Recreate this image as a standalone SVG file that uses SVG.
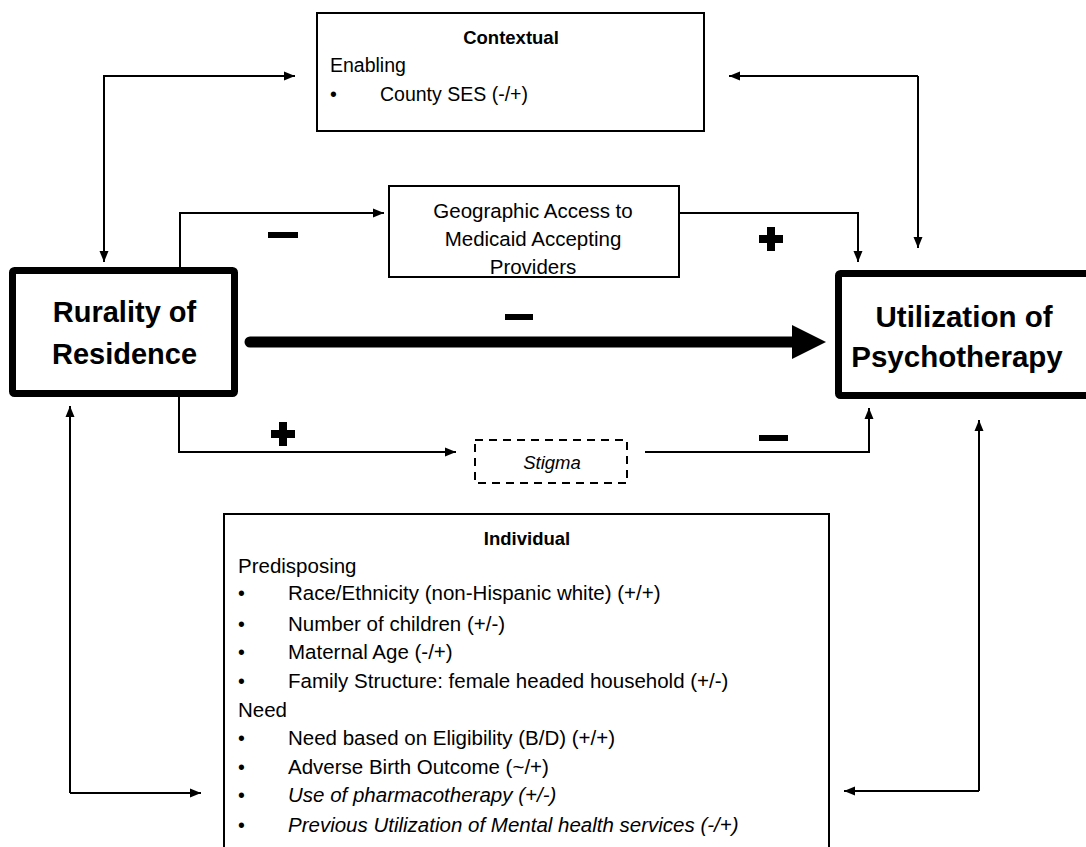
<svg xmlns="http://www.w3.org/2000/svg" width="1086" height="847" viewBox="0 0 1086 847">
<defs>
<marker id="ah" markerUnits="userSpaceOnUse" markerWidth="12" markerHeight="12" viewBox="0 0 12 12" refX="11" refY="6" orient="auto">
<path d="M0,1.5 L11,6 L0,10.5 Z" fill="#000"/>
</marker>
<style>
.t{font-family:"Liberation Sans",Arial,sans-serif;font-size:19.5px;fill:#000}
.m{font-size:20.5px}
.b{font-weight:bold}
.i{font-style:italic}
.box{fill:#fff;stroke:#000;stroke-width:2}
.big{fill:#fff;stroke:#000;stroke-width:7}
.ln{fill:none;stroke:#000;stroke-width:2}
.sign{fill:#000}
</style>
</defs>
<rect width="1086" height="847" fill="#fff"/>

<g id="connectors">
<path class="ln" d="M104,262 V76 H295" marker-end="url(#ah)"/>
<path class="ln" d="M104,96 V262" marker-end="url(#ah)"/>
<path class="ln" d="M918,76 V248" marker-end="url(#ah)"/>
<path class="ln" d="M918,76 H729" marker-end="url(#ah)"/>
<path class="ln" d="M180,267 V213 H384" marker-end="url(#ah)"/>
<path class="ln" d="M680,213 H858 V262" marker-end="url(#ah)"/>
<path class="ln" d="M179,397 V452 H456" marker-end="url(#ah)"/>
<path class="ln" d="M645,452 H869 V408" marker-end="url(#ah)"/>
<path class="ln" d="M70,793 V406" marker-end="url(#ah)"/>
<path class="ln" d="M70,793 H201" marker-end="url(#ah)"/>
<path class="ln" d="M979,791 V420" marker-end="url(#ah)"/>
<path class="ln" d="M979,791 H844" marker-end="url(#ah)"/>
<line x1="250" y1="342" x2="796" y2="342" stroke="#000" stroke-width="11" stroke-linecap="round"/>
<polygon points="792,325 826,342 792,359" fill="#000"/>
<rect class="sign" x="268" y="232" width="30" height="6"/>
<rect class="sign" x="505" y="314" width="28" height="6"/>
<rect class="sign" x="759" y="435" width="29" height="6"/>
<path class="sign" d="M767,227 h8 v8 h8 v8 h-8 v8 h-8 v-8 h-8 v-8 h8 Z"/>
<path class="sign" d="M279,422 h8 v8 h8 v8 h-8 v8 h-8 v-8 h-8 v-8 h8 Z"/>
</g>

<g id="contextual">
<rect class="box" x="317" y="13" width="387" height="118"/>
<text class="t b" x="511" y="44" text-anchor="middle" style="font-size:18.5px">Contextual</text>
<text class="t" x="330" y="72">Enabling</text>
<text class="t" x="330" y="101">•</text>
<text class="t" x="380" y="101">County SES (-/+)</text>
</g>

<g id="geographic">
<rect class="box" x="389" y="186" width="290" height="91"/>
<text class="t m" x="533" y="218" text-anchor="middle">Geographic Access to</text>
<text class="t m" x="533" y="246" text-anchor="middle">Medicaid Accepting</text>
<text class="t m" x="533" y="274" text-anchor="middle">Providers</text>
</g>

<g id="rurality">
<rect class="big" x="12.5" y="270.5" width="222" height="123" rx="2"/>
<text class="t b" x="124.5" y="322" text-anchor="middle" style="font-size:29px">Rurality of</text>
<text class="t b" x="124.5" y="364" text-anchor="middle" style="font-size:29px">Residence</text>
</g>

<g id="utilization">
<rect class="big" x="838.5" y="273.5" width="260" height="122" rx="2"/>
<text class="t b" x="964" y="327" text-anchor="middle" style="font-size:29.5px">Utilization of</text>
<text class="t b" x="957" y="367" text-anchor="middle" style="font-size:29.5px">Psychotherapy</text>
</g>

<g id="stigma">
<rect x="475" y="440" width="152" height="43" fill="#fff" stroke="#000" stroke-width="2" stroke-dasharray="8,6"/>
<text class="t i" x="552" y="469" text-anchor="middle" style="font-size:18.5px">Stigma</text>
</g>

<g id="individual">
<rect class="box" x="224" y="514" width="605" height="345"/>
<text class="t b" x="527" y="545" text-anchor="middle" style="font-size:18.5px">Individual</text>
<text class="t m" x="238" y="573">Predisposing</text>
<text class="t" x="238" y="600">•</text>
<text class="t m" x="288" y="600">Race/Ethnicity (non-Hispanic white) (+/+)</text>
<text class="t" x="238" y="631">•</text>
<text class="t m" x="288" y="631">Number of children (+/-)</text>
<text class="t" x="238" y="659">•</text>
<text class="t m" x="288" y="659">Maternal Age (-/+)</text>
<text class="t" x="238" y="688">•</text>
<text class="t m" x="288" y="688">Family Structure: female headed household (+/-)</text>
<text class="t m" x="238" y="717">Need</text>
<text class="t" x="238" y="745">•</text>
<text class="t m" x="288" y="745">Need based on Eligibility (B/D) (+/+)</text>
<text class="t" x="238" y="774">•</text>
<text class="t m" x="288" y="774">Adverse Birth Outcome (~/+)</text>
<text class="t" x="238" y="802">•</text>
<text class="t m i" x="288" y="802">Use of pharmacotherapy (+/-)</text>
<text class="t" x="238" y="832">•</text>
<text class="t m i" x="288" y="832">Previous Utilization of Mental health services (-/+)</text>
</g>
</svg>
